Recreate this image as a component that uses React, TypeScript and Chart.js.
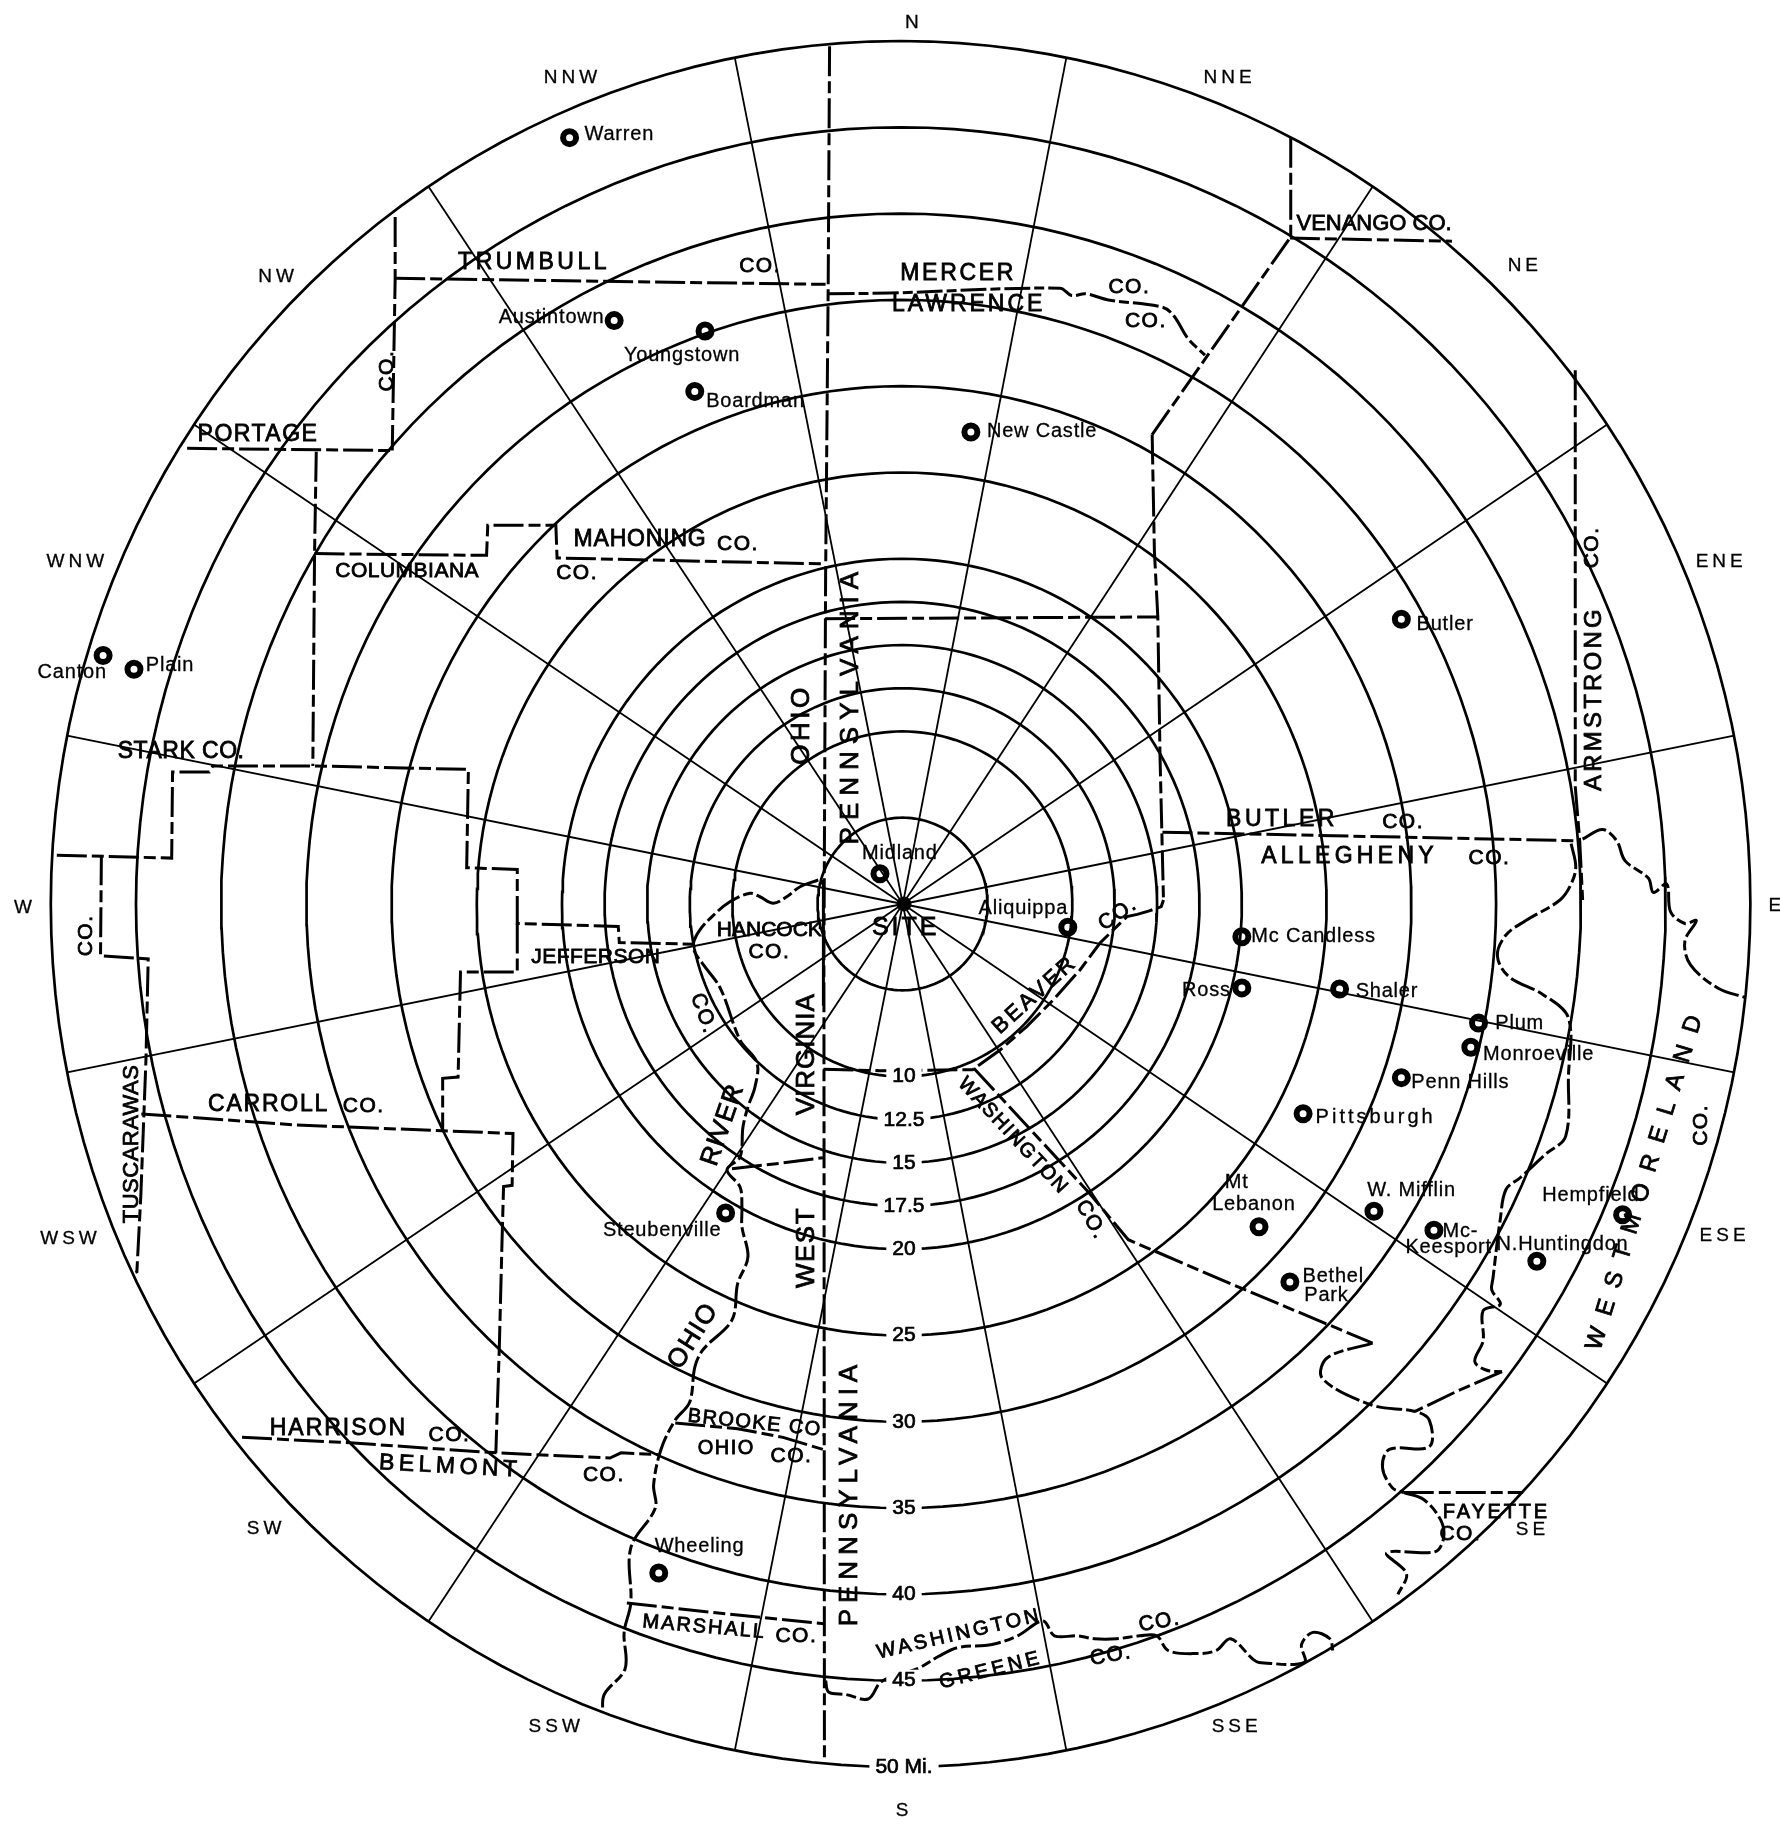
import React, { useEffect, useRef } from "react";
import { Chart, registerables } from "chart.js";

Chart.register(...registerables);

type P = [number, number];

// Distance rings (miles) and spoke bearings (degrees)
const ringMiles = [5, 10, 12.5, 15, 17.5, 20, 25, 30, 35, 40, 45, 50];
const ringLabels = ["", "10", "12.5", "15", "17.5", "20", "25", "30", "35", "40", "45", "50 Mi."];
const spokeBearings = [11.25, 33.75, 56.25, 78.75, 101.25, 123.75, 146.25, 168.75, 191.25, 213.75, 236.25, 258.75, 281.25, 303.75, 326.25, 348.75];

// Boundaries, [miles east, miles north] of the site
const paOhioLine: P[] = [[-4.34, 49.7], [-4.42, 35.9], [-4.57, 19.1], [-4.67, -3.2], [-4.64, -49.5]];
const hancockLine: P[] = [[-4.7, 1.4], [-4.7, -5.9]];
const trumbullWest: P[] = [[-29.67, 39.8], [-29.67, 36.25], [-29.84, 26.27]];
const trumbullSouth: P[] = [[-29.67, 36.25], [-4.57, 35.9]];
const portageSouth: P[] = [[-41.8, 26.4], [-29.84, 26.27]];
const columbianaWest: P[] = [[-34.27, 26.2], [-34.37, 20.3], [-34.47, 8.0]];
const mahoningSouth: P[] = [[-34.37, 20.3], [-24.34, 20.2], [-24.27, 21.95], [-20.3, 21.95], [-20.23, 20.05], [-4.57, 19.7]];
const starkSouth: P[] = [[-49.4, 2.83], [-42.7, 2.66], [-42.65, 7.65], [-40.5, 7.65], [-40.3, 8.0], [-34.47, 8.0], [-25.4, 7.8], [-25.5, 2.1], [-22.55, 2.0], [-22.55, -1.13], [-16.66, -1.3], [-16.6, -2.23], [-12.2, -2.33]];
const jeffersonWest: P[] = [[-22.55, -1.13], [-22.55, -3.94], [-25.86, -3.94], [-26.0, -10.03], [-26.9, -10.1], [-26.9, -13.1]];
const carrollSouth: P[] = [[-44.47, -12.16], [-35.5, -12.8], [-22.8, -13.3], [-22.85, -16.3], [-23.35, -16.37], [-23.44, -19.6], [-23.6, -25.8], [-23.8, -31.8]];
const tuscarawasEast: P[] = [[-46.8, 2.83], [-46.85, -3.0], [-44.07, -3.18], [-44.2, -9.0], [-44.5, -16.9], [-44.73, -21.3], [-44.97, -21.4]];
const harrisonSouth: P[] = [[-38.6, -30.9], [-32.55, -31.2], [-23.77, -31.8], [-17.15, -32.1], [-16.5, -31.8], [-14.34, -31.9]];
const ohioRiver: P[] = [[-5.0, 1.39], [-6.06, 1.0], [-6.84, 0.42], [-7.62, 0.04], [-8.4, 0.42], [-8.98, 0.62], [-10.15, 0.13], [-11.1, -0.64], [-11.9, -1.5], [-12.28, -2.28], [-12.19, -2.8], [-11.69, -3.53], [-10.7, -4.9], [-9.56, -7.88], [-8.57, -9.2], [-8.69, -10.6], [-9.1, -11.76], [-9.39, -12.92], [-9.56, -14.66], [-10.32, -15.4], [-9.56, -16.4], [-9.45, -17.55], [-9.45, -18.7], [-9.1, -20.45], [-9.7, -22.0], [-10.03, -24.1], [-11.7, -25.8], [-12.19, -26.8], [-12.5, -28.87], [-13.34, -29.9], [-14.17, -31.6], [-14.6, -33.66], [-14.5, -35.0], [-15.93, -37.3], [-15.93, -40.5], [-16.32, -42.2], [-16.26, -44.3], [-17.48, -45.8], [-17.58, -46.85]];
const hancockSouth: P[] = [[-10.03, -15.34], [-7.05, -15.0], [-4.73, -14.7]];
const brookeSouth: P[] = [[-13.34, -30.07], [-9.7, -30.4], [-7.05, -30.9], [-4.73, -31.6]];
const marshallNorth: P[] = [[-16.16, -40.5], [-9.7, -41.2], [-4.67, -41.7]];
const beaverSouth: P[] = [[-4.7, -9.57], [-1.4, -9.66], [4.0, -9.6], [4.24, -9.43], [5.6, -8.46], [7.15, -7.1], [8.7, -5.56], [10.26, -3.82], [11.43, -2.26], [12.2, -1.5], [13.0, -0.73], [13.6, -0.6], [14.3, -0.4], [15.0, -0.15], [15.13, 0.23]];
const beaverEast: P[] = [[14.47, 27.2], [14.6, 20.45], [14.8, 16.63], [14.93, 8.48], [15.13, 0.23]];
const beaverNorth: P[] = [[-4.6, 16.53], [14.8, 16.63]];
const butlerSouth: P[] = [[15.07, 4.16], [39.4, 3.66]];
const armstrongWest: P[] = [[39.14, 30.93], [39.14, 6.82], [39.4, 3.66], [39.57, 0.23]];
const alleghenyRiver: P[] = [[38.9, 3.5], [39.17, 2.16], [38.9, 1.16], [38.25, 0.23], [36.26, -0.96], [35.1, -1.8], [34.6, -3.0], [35.26, -4.2], [37.25, -5.24], [38.74, -6.6], [38.74, -10.03], [38.58, -13.46], [37.4, -14.5], [35.93, -15.86], [35.1, -16.54], [34.77, -18.25], [34.34, -21.7], [34.27, -22.36], [34.77, -23.2], [33.77, -23.56], [33.77, -25.3], [33.28, -26.5], [33.94, -27.0], [34.87, -27.1]];
const westmorelandSouth: P[] = [[34.87, -27.1], [32.3, -28.2], [29.8, -29.4]];
const washingtonEast: P[] = [[4.07, -9.52], [10.76, -16.7], [13.08, -19.45], [19.04, -22.0], [27.32, -25.44]];
const monongahelaRiver: P[] = [[27.32, -25.44], [24.67, -26.3], [24.4, -27.5], [27.32, -29.04], [29.8, -29.4], [30.63, -29.9], [30.63, -31.44], [28.3, -31.6], [27.9, -32.64], [28.48, -33.83], [29.14, -34.1]];
const fayetteNorth: P[] = [[29.14, -34.1], [36.1, -34.1]];
const fayetteWest: P[] = [[29.14, -34.1], [30.3, -34.5], [31.3, -35.7], [31.46, -36.75], [30.96, -37.53], [28.15, -37.6], [29.3, -38.8], [28.8, -40.0]];
const greeneNorth: P[] = [[-4.57, -45], [-4.4, -45.65], [-3.4, -45.8], [-2.09, -46.06], [-1.42, -45.14], [-0.83, -44.8], [0.83, -44.28], [2.0, -43.6], [3.15, -43.08], [5.13, -42.9], [6.62, -42.4], [8.11, -41.54], [8.77, -42.4], [10.1, -42.4], [11.1, -42.57], [12.4, -42.57], [13.74, -42.4], [14.74, -42.4], [15.4, -43.25], [17.05, -43.43], [18.2, -43.25], [19.04, -42.57], [20.36, -43.77], [20.7, -43.94], [23.34, -43.94], [23.18, -42.9], [23.84, -42.2], [24.83, -42.57], [25.0, -43.25]];
const westmorelandNorth: P[] = [[39.57, 3.76], [40.73, 4.32], [41.56, 3.66], [42.05, 2.5], [43.4, 1.5], [43.7, 0.67], [44.47, 1.16], [44.7, -0.45], [45.53, -1.13], [46.2, -0.96], [45.53, -2.16], [45.86, -3.53], [47.5, -4.9], [49.0, -5.4]];
const lawrenceEast: P[] = [[14.47, 27.2], [22.5, 38.58]];
const venangoSouth: P[] = [[22.5, 38.58], [31.95, 38.4]];
const venangoWest: P[] = [[22.55, 44.4], [22.55, 38.58]];
const mercerSouth: P[] = [[-4.4, 35.35], [-0.83, 35.4], [9.1, 35.68], [9.77, 35.25], [10.6, 35.35], [11.92, 35.0], [15.07, 34.58], [15.73, 34.08], [16.56, 32.76], [17.55, 31.8]];

const solidBoundaries: P[][] = [hancockLine];
const straightBoundaries: P[][] = [paOhioLine, trumbullWest, trumbullSouth, portageSouth, columbianaWest, mahoningSouth, starkSouth, jeffersonWest, carrollSouth, tuscarawasEast, harrisonSouth, hancockSouth, brookeSouth, marshallNorth, beaverSouth, beaverEast, beaverNorth, butlerSouth, armstrongWest, westmorelandSouth, washingtonEast, fayetteNorth, lawrenceEast, venangoSouth, venangoWest];
const riverBoundaries: P[][] = [ohioRiver, alleghenyRiver, monongahelaRiver, fayetteWest, greeneNorth, westmorelandNorth, mercerSouth];

// Towns
const cityMarks: P[] = [[-19.5, 44.4], [-16.9, 33.8], [-11.6, 33.2], [-12.2, 29.7], [3.9, 27.35], [29.0, 16.5], [-46.7, 14.4], [-44.9, 13.6], [-1.4, 1.75], [9.55, -1.35], [19.7, -1.9], [19.7, -4.86], [25.4, -4.93], [33.5, -6.9], [33.05, -8.3], [29.0, -10.06], [23.27, -12.15], [20.7, -18.7], [27.4, -17.8], [30.9, -18.9], [36.9, -20.7], [41.9, -18.0], [22.5, -21.9], [-10.4, -17.9], [-14.3, -38.76]];

type T = [string, number, number];
const cityLabels: T[] = [["Warren", -16.6, 44.6], ["Austintown", -20.55, 34.0], ["Youngstown", -12.94, 31.8], ["Boardman", -8.66, 29.1], ["New Castle", 8.05, 27.4], ["Butler", 31.55, 16.2], ["Canton", -48.5, 13.44], ["Plain", -42.8, 13.84], ["Midland", -0.24, 2.9], ["Aliquippa", 6.96, -0.27], ["Mc Candless", 23.88, -1.9], ["Ross", 17.63, -5.0], ["Shaler", 28.16, -5.06], ["Plum", 35.9, -6.95], ["Monroeville", 37.0, -8.7], ["Penn Hills", 32.44, -10.33], ["Pittsburgh", 27.5, -12.36], ["Mt", 19.4, -16.14], ["Lebanon", 20.4, -17.42], ["W. Mifflin", 29.6, -16.6], ["Mc-", 32.44, -19.0], ["Keesport", 31.76, -19.9], ["N.Huntingdon", 38.4, -19.7], ["Hempfield", 40.05, -16.9], ["Bethel", 25.03, -21.6], ["Park", 24.63, -22.7], ["Steubenville", -14.1, -18.9], ["Wheeling", -11.92, -37.2]];

const compassLabels: T[] = [["N", 0.58, 51.05], ["NNE", 18.99, 47.87], ["NE", 36.2, 37.0], ["ENE", 47.65, 19.8], ["E", 50.9, -0.13], ["ESE", 47.85, -19.24], ["SE", 36.65, -36.26], ["SSE", 19.4, -47.67], ["S", 0, -52.53], ["SSW", -20.28, -47.67], ["SW", -37.2, -36.2], ["WSW", -48.6, -19.38], ["W", -51.25, -0.2], ["WNW", -48.2, 19.85], ["NW", -36.5, 36.33], ["NNW", -19.33, 47.87]];

// text, east, north, rotation in degrees
type R = [string, number, number, number];
const countyLabels: R[] = [
  ["TRUMBULL", -21.57, 37.14, 0], ["CO.", -8.39, 36.93, 0], ["MERCER", 3.16, 36.53, 0], ["LAWRENCE", 3.77, 34.7, 0],
  ["CO.", 13.14, 35.72, 0], ["CO.", 14.1, 33.76, 0], ["VENANGO CO.", 27.41, 39.43, 0], ["PORTAGE", -37.67, 27.2, 0],
  ["MAHONING", -15.39, 21.13, 0], ["CO.", -9.68, 20.86, 0], ["CO.", -19.06, 19.18, 0], ["COLUMBIANA", -28.97, 19.31, 0],
  ["STARK CO.", -42.15, 8.85, 0], ["HANCOCK", -7.85, -1.49, 0], ["CO.", -7.85, -2.77, 0], ["JEFFERSON", -17.97, -3.1, 0],
  ["BUTLER", 22.04, 4.86, 0], ["CO.", 29.1, 4.73, 0], ["ALLEGHENY", 25.98, 2.77, 0], ["CO.", 34.14, 2.63, 0],
  ["CARROLL", -37.05, -11.6, 0], ["CO.", -31.5, -11.7, 0], ["HARRISON", -32.98, -30.4, 0], ["CO.", -26.5, -30.8, 0],
  ["BELMONT", -26.46, -32.6, 3], ["CO.", -17.5, -33.1, 0], ["BROOKE CO.", -8.5, -30.1, 6], ["OHIO", -10.36, -31.53, 0],
  ["CO.", -6.56, -32.0, 0], ["MARSHALL", -11.65, -41.9, 5], ["CO.", -6.28, -42.4, 0], ["FAYETTE", 34.54, -35.25, 0],
  ["CO.", 32.44, -36.5, 0], ["WASHINGTON", 3.23, -42.3, -13], ["GREENE", 5.06, -44.4, -14], ["CO.", 12.06, -43.55, -10],
  ["CO.", 14.9, -41.6, -10], ["WASHINGTON", 6.35, -13.44, 47], ["CO.", 10.9, -18.3, 60], ["BEAVER", 7.64, -5.27, -42],
  ["CO.", 12.47, -0.6, -35], ["OHIO", -5.96, 10.4, -90], ["PENNSYLVANIA", -3.09, 11.55, -90], ["VIRGINIA", -5.67, -8.7, -90],
  ["WEST", -5.67, -19.9, -90], ["PENNSYLVANIA", -3.16, -34.1, -90], ["RIVER", -10.55, -12.8, -71], ["OHIO", -12.28, -25.03, -58],
  ["CO.", -11.7, -6.35, 70], ["ARMSTRONG", 40.25, 11.9, -90], ["CO.", 40.1, 20.66, -90], ["TUSCARAWAS", -45.0, -13.9, -90],
  ["CO.", -47.7, -1.82, -90], ["CO.", -30.13, 30.9, -90], ["WESTMORELAND", 43.3, -15.8, -73], ["CO.", 46.5, -12.8, -90],
];

const toXY = (pts: P[]) => pts.map(([x, y]) => ({ x, y }));

// The sheet is very slightly narrower across than tall, and drifts west with range.
const gridPoint = (r: number, deg: number) => ({
  x: -0.07 - 0.0026 * r + 0.991 * r * Math.sin((deg * Math.PI) / 180),
  y: r * Math.cos((deg * Math.PI) / 180),
});

const labelStyle = (t: string, rot: number, north: number): [number, number] => {
  if (t === "PENNSYLVANIA") return [26, north > 0 ? 7 : 6];
  if (t === "OHIO" && rot === -90) return [26, 3.5];
  if (t === "OHIO" && rot !== 0) return [26, 1.5];
  const table: Record<string, [number, number]> = {
    TRUMBULL: [23, 3.5], MERCER: [23, 2.7], LAWRENCE: [23, 3], "VENANGO CO.": [22, 0], PORTAGE: [23, 1.5],
    MAHONING: [23, 0.8], COLUMBIANA: [21, 0.5], "STARK CO.": [23, 0.5], HANCOCK: [21, 0], JEFFERSON: [21, 0.5],
    BUTLER: [23, 3.5], ALLEGHENY: [23, 4.3], CARROLL: [23, 1.8], HARRISON: [23, 2], BELMONT: [23, 4.5],
    "BROOKE CO.": [20, 1.5], OHIO: [20, 1.5], MARSHALL: [20, 2], FAYETTE: [20, 2.8], WASHINGTON: [20, rot < 0 ? 3.2 : 1.5],
    GREENE: [20, 3.5], BEAVER: [22, 3], TUSCARAWAS: [22, 0.5], VIRGINIA: [26, 1], WEST: [26, 1.5], RIVER: [26, 1],
    ARMSTRONG: [24, 3.2], WESTMORELAND: [24, 13],
  };
  return table[t] ?? [21, 1.5];
};

const textPlugin = {
  id: "mapText",
  afterDatasetsDraw(chart: any) {
    const { ctx, scales } = chart;
    const sx = scales.x, sy = scales.y;
    const put = (t: string, x: number, y: number, rot: number, size: number, spacing: number, heavy = 0.5) => {
      ctx.save();
      ctx.translate(sx.getPixelForValue(x), sy.getPixelForValue(y));
      ctx.rotate((rot * Math.PI) / 180);
      ctx.font = `${size}px "Liberation Sans", sans-serif`;
      (ctx as any).letterSpacing = `${spacing}px`;
      ctx.textAlign = "center";
      ctx.textBaseline = "middle";
      ctx.fillStyle = "#000";
      ctx.strokeStyle = "#000";
      ctx.lineWidth = heavy;
      ctx.fillText(t, 0, 0);
      ctx.strokeText(t, 0, 0);
      ctx.restore();
    };
    ringMiles.forEach((r, i) => {
      if (!ringLabels[i]) return;
      const px = sx.getPixelForValue(0), py = sy.getPixelForValue(-r);
      ctx.font = `21px "Liberation Sans", sans-serif`;
      const w = ctx.measureText(ringLabels[i]).width + 12;
      ctx.fillStyle = "#fff";
      ctx.fillRect(px - w / 2, py - 11, w, 22);
      put(ringLabels[i], 0, -r, 0, 21, 0, 0.7);
    });
    compassLabels.forEach(([t, x, y]) => put(t, x, y, 0, 19, 4, 0.3));
    cityLabels.forEach(([t, x, y]) => put(t, x, y, 0, 20, t === "Pittsburgh" ? 3 : 0.8, 0.3));
    countyLabels.forEach(([t, x, y, rot]) => {
      const [size, spacing] = labelStyle(t, rot, y);
      put(t, x, y, rot, size, spacing, 0.8);
    });
    put("SITE", 0.1, -1.4, 0, 25, 3, 0.8);
  },
};

export default function App() {
  const ref = useRef<HTMLCanvasElement>(null);
  useEffect(() => {
    const pxPerMileX = 17.15, pxPerMileY = 17.26;
    const cx = 904, cy = 904;
    const line = (data: any[], width: number, dash: number[] = [], tension = 0) => ({
      type: "scatter" as const,
      data,
      showLine: true,
      borderColor: "#000",
      backgroundColor: "#000",
      borderWidth: width,
      borderDash: dash,
      pointRadius: 0,
      tension,
      fill: false,
      clip: false as any,
    });
    const rings = ringMiles.map((r) => {
      const pts = [];
      for (let a = 0; a <= 360; a += 2) pts.push(gridPoint(r, a));
      return line(pts, 2.7);
    });
    const spokes = spokeBearings.map((b) => line([gridPoint(0, b), gridPoint(50, b)], 1.8));
    const chart = new Chart(ref.current as HTMLCanvasElement, {
      type: "scatter",
      data: {
        datasets: [
          ...spokes,
          ...rings,
          ...straightBoundaries.map((b) => line(toXY(b), 3, [30, 5, 12, 5])),
          ...riverBoundaries.map((b) => line(toXY(b), 3, [26, 4, 10, 4], 0.35)),
          ...solidBoundaries.map((b) => line(toXY(b), 3)),
          {
            type: "scatter",
            data: toXY(cityMarks),
            pointRadius: 6.5,
            pointBorderWidth: 6,
            pointBackgroundColor: "#fff",
            pointBorderColor: "#000",
            showLine: false,
          },
          {
            type: "scatter",
            data: [{ x: 0, y: 0 }],
            pointRadius: 7,
            pointBackgroundColor: "#000",
            pointBorderColor: "#000",
            showLine: false,
          },
        ] as any,
      },
      options: {
        responsive: false,
        animation: false,
        layout: { padding: 0, autoPadding: false },
        plugins: { legend: { display: false }, tooltip: { enabled: false }, title: { display: false } },
        scales: {
          x: { type: "linear", display: false, min: -cx / pxPerMileX, max: (1780 - cx) / pxPerMileX },
          y: { type: "linear", display: false, min: -(1826 - cy) / pxPerMileY, max: cy / pxPerMileY },
        },
      },
      plugins: [textPlugin],
    } as any);
    return () => chart.destroy();
  }, []);
  return (
    <canvas
      ref={ref}
      width={1780}
      height={1826}
      style={{ position: "absolute", left: 0, top: 0, width: 1780, height: 1826, background: "#fff" }}
    />
  );
}
